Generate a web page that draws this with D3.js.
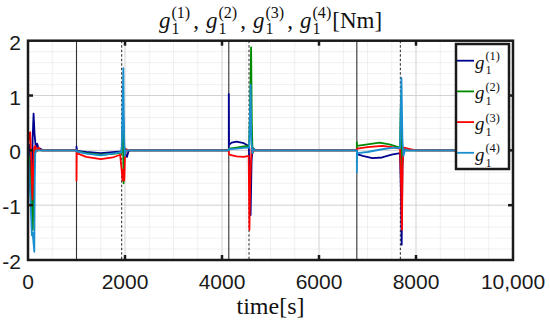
<!DOCTYPE html>
<html><head><meta charset="utf-8">
<script src="https://cdn.jsdelivr.net/npm/d3@7"></script>
<style>body{margin:0;background:#fff}</style>
</head><body>
<svg id="c" width="550" height="324"></svg>
<script>
// ---- data ----
const xTicks = [0, 2000, 4000, 6000, 8000, 10000];
const xTickLabels = ["0", "2000", "4000", "6000", "8000", "10,000"];
const yTicks = [-2, -1, 0, 1, 2];
const yTickLabels = ["-2", "-1", "0", "1", "2"];
const seriesLabels = ["(1)", "(2)", "(3)", "(4)"];
const seriesColors = ["#00008f", "#008a00", "#ff0000", "#1a8fd0"];
const solidMarkers = [1000, 4140, 6780];
const dashedMarkers = [1932, 4557, 7677];

const g1_1 = [[0,0],[30,0.1],[60,-0.6],[80,-1.2],[95,0.2],[115,0.67],[135,0.3],[160,0.05],[190,0.12],[220,0.02],[260,0.03],[300,0],
  [1000,0],[1000,0.07],[1010,-0.01],[1200,-0.03],[1500,-0.05],[1800,-0.03],[1930,-0.02],[1950,0.3],[1965,0.6],[1980,0.1],[2000,-0.05],[2040,-0.12],[2070,-0.02],[2100,0],
  [4140,0],[4140,1.03],[4145,0.1],[4200,0.14],[4300,0.16],[4450,0.13],[4550,0.08],[4570,-0.3],[4590,-1.18],[4610,-0.2],[4630,0.05],[4660,0.02],[4700,0],
  [6780,0],[6785,-0.07],[6900,-0.1],[7100,-0.14],[7300,-0.13],[7500,-0.08],[7670,-0.05],[7690,-0.8],[7705,-1.72],[7720,-0.3],[7740,0.05],[7780,0],[9000,0]];
const g1_2 = [[0,0],[30,-0.2],[60,-0.8],[85,-1.2],[100,-1.45],[115,-0.6],[135,-0.1],[160,0.02],[200,0],
  [1000,0],[1000,-0.02],[1200,-0.05],[1500,-0.08],[1800,-0.06],[1930,-0.04],[1945,0.2],[1960,0.4],[1970,-0.6],[1985,-0.1],[2010,0.02],[2060,0],
  [4140,0],[4145,0.03],[4300,0.05],[4450,0.07],[4560,0.08],[4580,0.8],[4600,1.88],[4615,0.5],[4630,-0.05],[4660,0.02],[4700,0],
  [6780,0],[6780,0.15],[6785,0.08],[7000,0.11],[7250,0.14],[7450,0.11],[7670,0.05],[7690,1.0],[7705,-0.4],[7720,-0.1],[7750,0.02],[7800,0],[9000,0]];
const g1_3 = [[0,0],[20,0.3],[45,0.33],[70,-0.2],[90,-0.9],[105,-0.5],[125,0.05],[150,0.08],[180,-0.02],[220,0.05],[260,0],
  [1000,0],[1000,-0.55],[1005,-0.05],[1200,-0.12],[1500,-0.16],[1750,-0.13],[1900,-0.08],[1930,-0.35],[1950,-0.55],[1965,-0.35],[1985,-0.55],[2000,-0.1],[2030,0.02],[2060,0],
  [4140,0],[4145,-0.08],[4300,-0.11],[4450,-0.12],[4550,-0.1],[4565,-1.45],[4585,-0.5],[4610,0.05],[4640,-0.02],[4680,0],
  [6780,0],[6785,0.03],[7000,0.06],[7300,0.08],[7500,0.06],[7670,0.03],[7690,-0.5],[7710,-1.45],[7725,-0.2],[7750,0.05],[7900,0.02],[8000,0],[9000,0]];
const g1_4 = [[0,0],[30,-0.5],[60,-1.1],[80,-1.55],[95,-1.5],[130,-1.85],[140,-0.5],[150,-0.05],[170,0],
  [1000,0],[1000,-0.02],[1200,-0.06],[1500,-0.09],[1800,-0.05],[1930,-0.03],[1950,0.8],[1965,1.5],[1980,0.3],[1995,-0.1],[2020,0],
  [4140,0],[4145,0.02],[4300,0.03],[4500,0.05],[4560,0.05],[4590,1.2],[4605,0.2],[4625,-0.05],[4650,0.02],[4680,0],
  [6780,0],[6780,-0.4],[6785,-0.05],[7000,-0.03],[7300,0.02],[7550,0.05],[7670,0.04],[7700,1.32],[7720,0.2],[7740,-0.1],[7780,0.02],[7820,0],[9000,0]];
const seriesData = [g1_1, g1_2, g1_3, g1_4];

// ---- layout ----
const svg = d3.select("#c");
svg.append("rect").attr("width",550).attr("height",324).attr("fill","#fff");
const L = 28, R = 513, T = 40.7, B = 260;
const x = d3.scaleLinear().domain([0,10000]).range([L,R]);
const y = d3.scaleLinear().domain([-2,2]).range([B,T]);
const sans = "'Liberation Sans', Arial, sans-serif";
const serif = "'Liberation Serif', 'Times New Roman', serif";

// grid
const grid = svg.append("g");
grid.selectAll(".mx").data(d3.range(500,10000,500).filter(v=>v%2000)).join("line")
  .attr("x1",d=>x(d)).attr("x2",d=>x(d)).attr("y1",T).attr("y2",B)
  .attr("stroke","#ececec").attr("stroke-width",0.8);
grid.selectAll(".my").data(d3.range(-1.8,2,0.2).filter(v=>Math.abs(v-Math.round(v))>0.01)).join("line")
  .attr("y1",d=>y(d)).attr("y2",d=>y(d)).attr("x1",L).attr("x2",R)
  .attr("stroke","#ececec").attr("stroke-width",0.8);
grid.selectAll(".Mx").data(xTicks.slice(1,-1)).join("line")
  .attr("x1",d=>x(d)).attr("x2",d=>x(d)).attr("y1",T).attr("y2",B)
  .attr("stroke","#d2d2d2").attr("stroke-width",1);
grid.selectAll(".My").data(yTicks.slice(1,-1)).join("line")
  .attr("y1",d=>y(d)).attr("y2",d=>y(d)).attr("x1",L).attr("x2",R)
  .attr("stroke","#d2d2d2").attr("stroke-width",1);

// markers
svg.selectAll(".sm").data(solidMarkers).join("line")
  .attr("x1",d=>x(d)).attr("x2",d=>x(d)).attr("y1",T).attr("y2",B)
  .attr("stroke","#333").attr("stroke-width",1.1);
svg.selectAll(".dm").data(dashedMarkers).join("line")
  .attr("x1",d=>x(d)).attr("x2",d=>x(d)).attr("y1",T).attr("y2",B)
  .attr("stroke","#222").attr("stroke-width",1).attr("stroke-dasharray","2.5,2");

// series
svg.append("clipPath").attr("id","clip").append("rect").attr("x",L).attr("y",T).attr("width",R-L).attr("height",B-T);
const line = d3.line().x(d=>x(d[0])).y(d=>y(d[1]));
svg.append("g").attr("clip-path","url(#clip)").selectAll("path").data(seriesData).join("path")
  .attr("d",line).attr("fill","none").attr("stroke",(d,i)=>seriesColors[i])
  .attr("stroke-width",1.8).attr("stroke-linejoin","round");

// frame
svg.append("rect").attr("x",L).attr("y",T).attr("width",R-L).attr("height",B-T)
  .attr("fill","none").attr("stroke","#1a1a1a").attr("stroke-width",2.5);
const tk = svg.append("g").attr("stroke","#1a1a1a").attr("stroke-width",2.5);
xTicks.slice(1,-1).forEach(v=>{
  tk.append("line").attr("x1",x(v)).attr("x2",x(v)).attr("y1",B).attr("y2",B-5);
  tk.append("line").attr("x1",x(v)).attr("x2",x(v)).attr("y1",T).attr("y2",T+5);
});
yTicks.slice(1,-1).forEach(v=>{
  tk.append("line").attr("y1",y(v)).attr("y2",y(v)).attr("x1",L).attr("x2",L+5);
  tk.append("line").attr("y1",y(v)).attr("y2",y(v)).attr("x1",R).attr("x2",R-5);
});

// tick labels
svg.selectAll(".xl").data(xTicks).join("text")
  .attr("x",d=>x(d)).attr("y",288.5).attr("text-anchor","middle")
  .attr("font-family",sans).attr("font-size",21).attr("fill","#1a1a1a")
  .text((d,i)=>xTickLabels[i]);
svg.selectAll(".yl").data(yTicks).join("text")
  .attr("x",21).attr("y",d=>y(d)+9).attr("text-anchor","end")
  .attr("font-family",sans).attr("font-size",21).attr("fill","#1a1a1a")
  .text((d,i)=>yTickLabels[i]);

// text measurement
const meas = svg.append("text").attr("font-family",serif).attr("visibility","hidden");
function tw(str, size, italic){
  meas.attr("font-size",size).attr("font-style",italic?"italic":"normal").text(str);
  return meas.node().getComputedTextLength();
}
// math term appended as tspans into one text element
function term(t, px, py, size, sup, subOff, supOff, scr){
  t.append("tspan").attr("x",px).attr("y",py).attr("font-style","italic").attr("font-size",size).text("g");
  const w = tw("g", size, true) + 1;
  t.append("tspan").attr("x",px+w).attr("y",py+subOff*size).attr("font-size",size*scr).text("1");
  t.append("tspan").attr("x",px+w).attr("y",py-supOff*size).attr("font-size",size*scr).text(sup);
  return px + w + Math.max(tw("1",size*scr,false), tw(sup,size*scr,false));
}

// title
const TS = 23;
const tt = svg.append("text").attr("font-family",serif).attr("fill","#111");
let cx = 0;
seriesLabels.forEach((s,i)=>{
  cx = term(tt, cx, 28, TS, s, 0.25, 0.42, 0.7);
  if(i<3){
    tt.append("tspan").attr("x",cx+3).attr("y",28).attr("font-size",TS).text(",");
    cx += 3 + tw(",",TS,false) + 7;
  }
});
tt.append("tspan").attr("x",cx+1).attr("y",28).attr("font-size",TS).text("[Nm]");
cx += 1 + tw("[Nm]",TS,false);
tt.attr("transform",`translate(${(L+R)/2 - cx/2},0)`);

// x label
svg.append("text").attr("x",(L+R)/2).attr("y",314).attr("text-anchor","middle")
  .attr("font-family",serif).attr("font-size",24).attr("fill","#111").text("time[s]");

// legend
const lg = svg.append("g");
lg.append("rect").attr("x",456).attr("y",44).attr("width",53).attr("height",125)
  .attr("fill","#fff").attr("stroke","#1a1a1a").attr("stroke-width",2.5);
seriesLabels.forEach((s,i)=>{
  const ly = 60.7 + i*30.7;
  lg.append("line").attr("x1",457).attr("x2",474).attr("y1",ly).attr("y2",ly)
    .attr("stroke",seriesColors[i]).attr("stroke-width",1.8);
  const lt = lg.append("text").attr("font-family",serif).attr("fill","#111");
  term(lt, 475, ly+8, 19, s, 0.3, 0.45, 0.65);
});
meas.remove();
</script>
</body></html>
